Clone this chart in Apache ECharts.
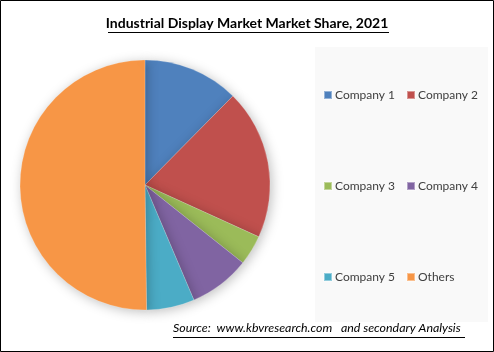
<!DOCTYPE html>
<html>
<head>
<meta charset="utf-8">
<script src="https://cdn.jsdelivr.net/npm/echarts@6/dist/echarts.min.js"></script>
<style>
html, body { margin: 0; padding: 0; background: #fff; }
#chart { width: 494px; height: 352px; }
</style>
</head>
<body>
<div id="chart"></div>
<script>
// data (percent share)
var companies = ['Company 1', 'Company 2', 'Company 3', 'Company 4', 'Company 5', 'Others'];
var shares = [12.4, 19.4, 3.9, 7.9, 6.2, 50.2];
var colors = ['#4F81BD', '#C0504D', '#9BBB59', '#8064A2', '#4BACC6', '#F79646'];

var pieData = [];
for (var i = 0; i < companies.length; i++) {
    pieData.push({ name: companies[i], value: shares[i], itemStyle: { color: colors[i] } });
}

var font = 'Lato, "Open Sans", sans-serif';

// legend in 3 rows of 2
function legendRow(names, top) {
    return {
        data: names,
        left: 318,
        top: top,
        itemWidth: 8,
        itemHeight: 8,
        itemGap: 11,
        icon: 'rect',
        textStyle: { color: '#404040', fontSize: 12, fontFamily: font, padding: [0, 0, 0, -2] },
        selectedMode: false
    };
}

var chartDom = document.getElementById('chart');
var myChart = echarts.init(chartDom);
var option = {
    backgroundColor: '#fff',
    animation: false,
    graphic: [
        // frame
        { type: 'rect', shape: { x: 0.5, y: 0.5, width: 493, height: 351 }, style: { fill: 'none', stroke: '#000', lineWidth: 1 } },
        // legend panel
        { type: 'rect', shape: { x: 315, y: 47, width: 173, height: 275 }, style: { fill: '#f9f9f9' }, z: -1 },
        // title
        { type: 'text', left: 'center', top: 16, style: { text: 'Industrial Display Market Market Share, 2021', fontSize: 14, fontWeight: 'bold', fontFamily: font, fill: '#000' } },
        { type: 'line', shape: { x1: 108, y1: 32.5, x2: 389, y2: 32.5 }, style: { stroke: '#000', lineWidth: 1 } },
        // source
        { type: 'text', left: 173, top: 322, style: { text: 'Source:  www.kbvresearch.com   and secondary Analysis', fontSize: 12.4, fontStyle: 'italic', fontFamily: font, fill: '#000' } },
        { type: 'line', shape: { x1: 173, y1: 337.5, x2: 465, y2: 337.5 }, style: { stroke: '#000', lineWidth: 1 } }
    ],
    legend: [
        legendRow(['Company 1', 'Company 2'], 84),
        legendRow(['Company 3', 'Company 4'], 175),
        legendRow(['Company 5', 'Others'], 266)
    ],
    series: [{
        type: 'pie',
        center: [145, 185],
        radius: 125,
        startAngle: 90,
        clockwise: true,
        label: { show: false },
        labelLine: { show: false },
        itemStyle: { borderColor: 'rgba(255,255,255,0.4)', borderWidth: 0.5, shadowBlur: 12, shadowColor: 'rgba(0,0,0,0.25)', shadowOffsetX: 2, shadowOffsetY: 2 },
        emphasis: { disabled: true },
        data: pieData
    }]
};
myChart.setOption(option);
</script>
</body>
</html>
